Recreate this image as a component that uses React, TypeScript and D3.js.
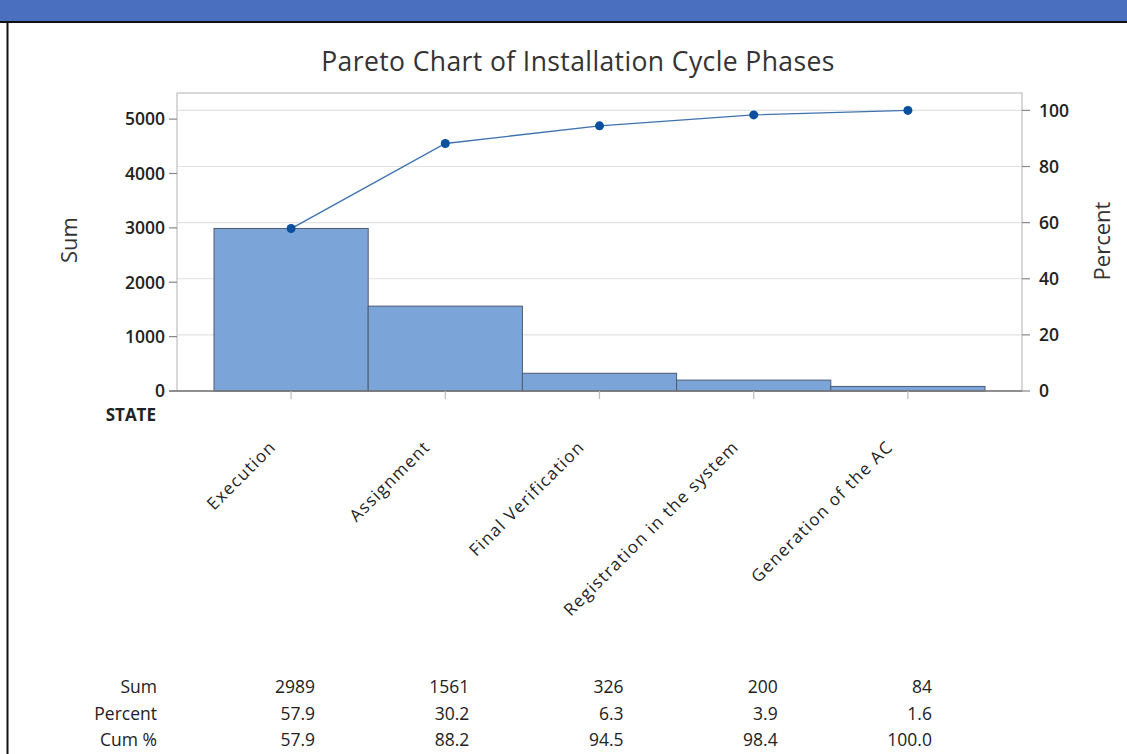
import React from "react";
import * as d3 from "d3";

const categories = ["Execution", "Assignment", "Final Verification", "Registration in the system", "Generation of the AC"];
const sums = [2989, 1561, 326, 200, 84];
const percents = ["57.9", "30.2", "6.3", "3.9", "1.6"];
const cumPercents = [57.9, 88.2, 94.5, 98.4, 100.0];
const sumTicks = [0, 1000, 2000, 3000, 4000, 5000];
const pctTicks = [0, 20, 40, 60, 80, 100];

const W = 1127, H = 754;
const plot = { left: 177, right: 1022, top: 93, bottom: 391 };
const font = "'Open Sans', 'Noto Sans', sans-serif";

export default function App() {
  const x = d3.scaleBand<string>()
    .domain(categories)
    .range([plot.left, plot.right])
    .paddingInner(0)
    .paddingOuter(0.24);
  const ySum = d3.scaleLinear().domain([0, 5480]).range([plot.bottom, plot.top]);
  const yPct = d3.scaleLinear().domain([0, 5480 / 5160 * 100]).range([plot.bottom, plot.top]);
  const cx = (c: string) => (x(c) as number) + x.bandwidth() / 2;

  const line = d3.line<number>()
    .x((_, i) => cx(categories[i]))
    .y(d => yPct(d));

  const rows = [
    { label: "Sum", vals: sums.map(String) },
    { label: "Percent", vals: percents },
    { label: "Cum %", vals: cumPercents.map(v => v.toFixed(1)) },
  ];

  return (
    <svg width={W} height={H} style={{ position: "absolute", left: 0, top: 0 }} fontFamily={font}>
      <rect x={0} y={0} width={W} height={H} fill="#fff" />
      <rect x={0} y={0} width={W} height={21} fill="#4a6fbf" />
      <line x1={0} x2={W} y1={22} y2={22} stroke="#111" strokeWidth={2} />
      <line x1={7.5} x2={7.5} y1={22} y2={H} stroke="#111" strokeWidth={2} />

      <text x={578} y={71} textAnchor="middle" fontSize={26.5} fill="#333" letterSpacing={0.4}>Pareto Chart of Installation Cycle Phases</text>

      {/* gridlines */}
      {pctTicks.filter(t => t > 0).map(t => (
        <line key={t} x1={plot.left} x2={plot.right} y1={yPct(t)} y2={yPct(t)} stroke="#e2e2e2" strokeWidth={1.2} />
      ))}
      <rect x={plot.left} y={plot.top} width={plot.right - plot.left} height={plot.bottom - plot.top}
        fill="none" stroke="#c4c4c4" strokeWidth={1.3} />

      {/* bars */}
      {categories.map((c, i) => (
        <rect key={c} x={x(c)} y={ySum(sums[i])} width={x.bandwidth()} height={plot.bottom - ySum(sums[i])}
          fill="#7ba5d8" stroke="#4d5b70" strokeWidth={1} />
      ))}

      <line x1={plot.left - 8} x2={plot.right} y1={plot.bottom} y2={plot.bottom} stroke="#777" strokeWidth={1.3} />

      {/* left axis */}
      {sumTicks.map(t => (
        <g key={t}>
          <line x1={plot.left - 8} x2={plot.left} y1={ySum(t)} y2={ySum(t)} stroke="#888" strokeWidth={1.2} />
          <text x={plot.left - 12} y={ySum(t)} dy="0.36em" textAnchor="end" fontSize={17.5} fontWeight={600} fill="#222">{t}</text>
        </g>
      ))}
      <text transform={`translate(77,${(plot.top + plot.bottom) / 2 - 2}) rotate(-90)`} textAnchor="middle" fontSize={22} fill="#333">Sum</text>

      {/* right axis */}
      {pctTicks.map(t => (
        <g key={t}>
          <line x1={plot.right} x2={plot.right + 8} y1={yPct(t)} y2={yPct(t)} stroke="#888" strokeWidth={1.2} />
          <text x={plot.right + 17} y={yPct(t)} dy="0.36em" textAnchor="start" fontSize={17.5} fontWeight={600} fill="#222">{t}</text>
        </g>
      ))}
      <text transform={`translate(1110,${(plot.top + plot.bottom) / 2 - 1}) rotate(-90)`} textAnchor="middle" fontSize={22} fill="#333">Percent</text>

      {/* x ticks and labels */}
      {categories.map(c => (
        <line key={c} x1={cx(c)} x2={cx(c)} y1={plot.bottom} y2={plot.bottom + 8} stroke="#bbb" strokeWidth={1.2} />
      ))}
      <text x={156} y={421} textAnchor="end" fontSize={17} fontWeight={700} fill="#222">STATE</text>
      {categories.map(c => (
        <text key={c} transform={`translate(${cx(c) - 14},${448}) rotate(-45)`} textAnchor="end" fontSize={17}
          letterSpacing={1.3} fill="#222">{c}</text>
      ))}

      {/* cumulative line */}
      <path d={line(cumPercents) as string} fill="none" stroke="#3f72b0" strokeWidth={1.4} />
      {cumPercents.map((p, i) => (
        <circle key={i} cx={cx(categories[i])} cy={yPct(p)} r={4.5} fill="#0b4f9e" />
      ))}

      {/* table */}
      {rows.map((r, ri) => (
        <g key={r.label}>
          <text x={157} y={687 + ri * 26.5} dy="0.36em" textAnchor="end" fontSize={17.5} fill="#222">{r.label}</text>
          {r.vals.map((v, i) => (
            <text key={i} x={cx(categories[i]) + 24} y={687 + ri * 26.5} dy="0.36em" textAnchor="end" fontSize={17.5} fill="#222">{v}</text>
          ))}
        </g>
      ))}
    </svg>
  );
}
